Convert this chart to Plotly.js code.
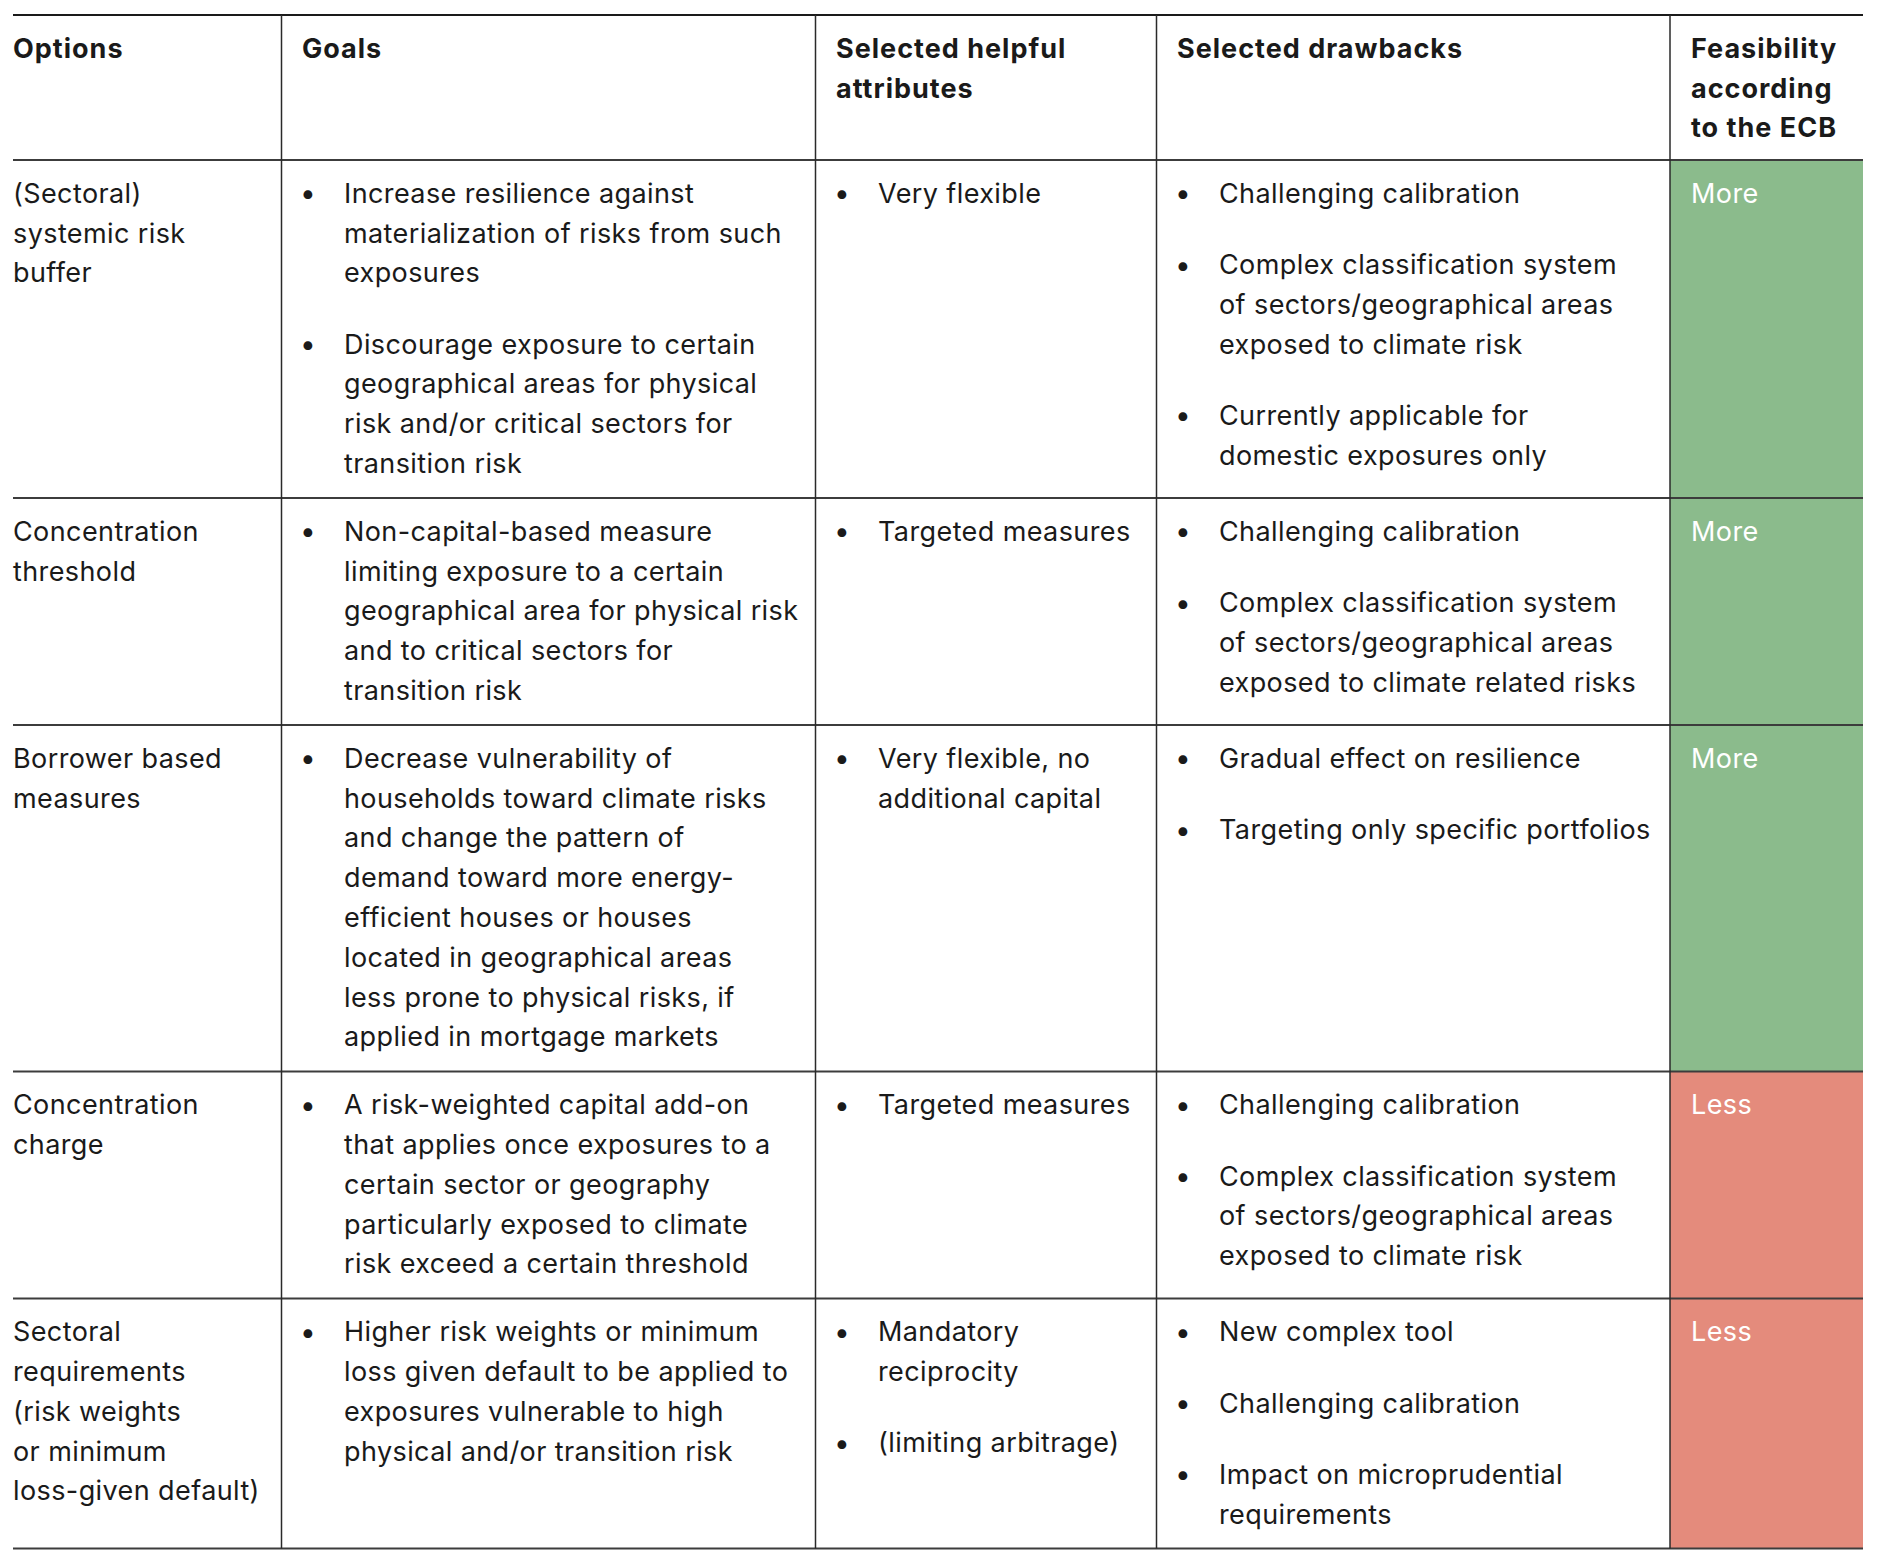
<!DOCTYPE html>
<html>
<head>
<meta charset="utf-8">
<script src="https://cdn.plot.ly/plotly-3.0.1.min.js"></script>
<style>html,body{margin:0;padding:0;background:#fff;}#chart{width:1878px;height:1564px;}</style>
</head>
<body>
<div id="chart"></div>
<script>
// ---------------- DATA ----------------
const headers = [
  ["Options"],
  ["Goals"],
  ["Selected helpful", "attributes"],
  ["Selected drawbacks"],
  ["Feasibility", "according", "to the ECB"]
];

const options = [
  ["(Sectoral)", "systemic risk", "buffer"],
  ["Concentration", "threshold"],
  ["Borrower based", "measures"],
  ["Concentration", "charge"],
  ["Sectoral", "requirements", "(risk weights", "or minimum", "loss-given default)"]
];

const goals = [
  [["Increase resilience against", "materialization of risks from such", "exposures"],
   ["Discourage exposure to certain", "geographical areas for physical", "risk and/or critical sectors for", "transition risk"]],
  [["Non-capital-based measure", "limiting exposure to a certain", "geographical area for physical risk", "and to critical sectors for", "transition risk"]],
  [["Decrease vulnerability of", "households toward climate risks", "and change the pattern of", "demand toward more energy-", "efficient houses or houses", "located in geographical areas", "less prone to physical risks, if", "applied in mortgage markets"]],
  [["A risk-weighted capital add-on", "that applies once exposures to a", "certain sector or geography", "particularly exposed to climate", "risk exceed a certain threshold"]],
  [["Higher risk weights or minimum", "loss given default to be applied to", "exposures vulnerable to high", "physical and/or transition risk"]]
];

const helpful = [
  [["Very flexible"]],
  [["Targeted measures"]],
  [["Very flexible, no", "additional capital"]],
  [["Targeted measures"]],
  [["Mandatory", "reciprocity"], ["(limiting arbitrage)"]]
];

const drawbacks = [
  [["Challenging calibration"],
   ["Complex classification system", "of sectors/geographical areas", "exposed to climate risk"],
   ["Currently applicable for", "domestic exposures only"]],
  [["Challenging calibration"],
   ["Complex classification system", "of sectors/geographical areas", "exposed to climate related risks"]],
  [["Gradual effect on resilience"],
   ["Targeting only specific portfolios"]],
  [["Challenging calibration"],
   ["Complex classification system", "of sectors/geographical areas", "exposed to climate risk"]],
  [["New complex tool"],
   ["Challenging calibration"],
   ["Impact on microprudential", "requirements"]]
];

const feasibility = ["More", "More", "More", "Less", "Less"];

// ---------------- STYLE / LAYOUT ----------------
const W = 1878, H = 1564;
const FONT = 'Inter, Roboto, "Liberation Sans", sans-serif';
const SIZE = 27;
const BODY_TRACKING = 0.4, HEAD_TRACKING = 1.0;
const BULLET_SIZE = 28;
const TEXT_COLOR = '#1a1a1a';
const FEAS_COLORS = { More: '#8bbb8c', Less: '#e48b7c' };
const STEP = 39.8, BULLET_GAP = 31.5, TOP_OFF = 33.3, BOT_OFF = 34.5, HEAD_BOT = 32;
const TABLE_TOP = 15;
const COL_X = [13, 281.5, 815.5, 1156.5, 1670, 1863];
const TEXT_PAD = [-1, 19.5, 19.5, 19.5, 20];
const BULLET_DX = 26, BULLET_TEXT_DX = 61;

function plainLines(lines) {
  return lines.map((t, i) => ({ text: t, off: i * STEP, bullet: false }));
}
function bulletLines(bullets) {
  const out = [];
  let off = 0;
  bullets.forEach((b, bi) => {
    if (bi > 0) off += STEP + BULLET_GAP;
    b.forEach((t, li) => {
      if (li > 0) off += STEP;
      out.push({ text: t, off: off, bullet: li === 0 });
    });
  });
  return out;
}
function span(lines) { return lines.length ? lines[lines.length - 1].off : 0; }

const annotations = [];
const shapes = [];

function addLines(lines, col, rowTop, opts) {
  const tracking = opts.weight === 700 ? HEAD_TRACKING : BODY_TRACKING;
  lines.forEach(l => {
    const y = rowTop + TOP_OFF + l.off;
    if (l.bullet) {
      annotations.push({
        x: COL_X[col] + BULLET_DX, y: y, xref: 'x', yref: 'y', text: '•',
        showarrow: false, xanchor: 'center', yanchor: 'middle',
        font: { family: FONT, size: BULLET_SIZE, color: TEXT_COLOR }
      });
    }
    annotations.push({
      x: COL_X[col] + (opts.bulleted ? BULLET_TEXT_DX : TEXT_PAD[col]), y: y,
      xref: 'x', yref: 'y',
      text: '<span style="letter-spacing:' + tracking + 'px">' + l.text + '</span>',
      showarrow: false,
      xanchor: 'left', yanchor: 'middle', borderpad: 0,
      font: { family: FONT, size: SIZE, color: opts.color || TEXT_COLOR, weight: opts.weight || 400 }
    });
  });
}

let curY = TABLE_TOP;
const headerLines = headers.map(plainLines);
const headSpan = Math.max(...headerLines.map(span));
headerLines.forEach((ls, c) => addLines(ls, c, curY, { weight: 700 }));
const rowBounds = [curY];
curY = curY + TOP_OFF + headSpan + HEAD_BOT;
rowBounds.push(curY);

for (let r = 0; r < options.length; r++) {
  const cells = [
    { lines: plainLines(options[r]), bulleted: false },
    { lines: bulletLines(goals[r]), bulleted: true },
    { lines: bulletLines(helpful[r]), bulleted: true },
    { lines: bulletLines(drawbacks[r]), bulleted: true },
    { lines: plainLines([feasibility[r]]), bulleted: false, color: '#ffffff' }
  ];
  const sp = Math.max(...cells.map(c => span(c.lines)));
  const bottom = curY + TOP_OFF + sp + BOT_OFF;
  shapes.push({
    type: 'rect', xref: 'x', yref: 'y', layer: 'below',
    x0: COL_X[4], x1: COL_X[5], y0: curY, y1: bottom,
    fillcolor: FEAS_COLORS[feasibility[r]], line: { width: 0 }
  });
  cells.forEach((c, ci) => addLines(c.lines, ci, curY, { bulleted: c.bulleted, color: c.color }));
  curY = bottom;
  rowBounds.push(curY);
}

rowBounds.forEach((y, i) => {
  shapes.push({
    type: 'line', xref: 'x', yref: 'y', x0: COL_X[0], x1: COL_X[5], y0: y, y1: y,
    line: { color: i === 0 ? '#1a1a1a' : '#3c3c3c', width: 2 }
  });
});
for (let c = 1; c < COL_X.length - 1; c++) {
  shapes.push({
    type: 'line', xref: 'x', yref: 'y', x0: COL_X[c], x1: COL_X[c],
    y0: rowBounds[0], y1: rowBounds[rowBounds.length - 1],
    line: { color: '#2a2a2a', width: 1.5 }
  });
}

const data = [{
  type: 'scatter', mode: 'markers', x: [], y: [], hoverinfo: 'skip', showlegend: false
}];

const layout = {
  width: W, height: H,
  margin: { l: 0, r: 0, t: 0, b: 0 },
  paper_bgcolor: '#ffffff', plot_bgcolor: '#ffffff',
  xaxis: { range: [0, W], visible: false, fixedrange: true },
  yaxis: { range: [H, 0], visible: false, fixedrange: true },
  showlegend: false,
  shapes: shapes,
  annotations: annotations
};

Plotly.newPlot('chart', data, layout, { staticPlot: true, displayModeBar: false });
</script>
</body>
</html>
